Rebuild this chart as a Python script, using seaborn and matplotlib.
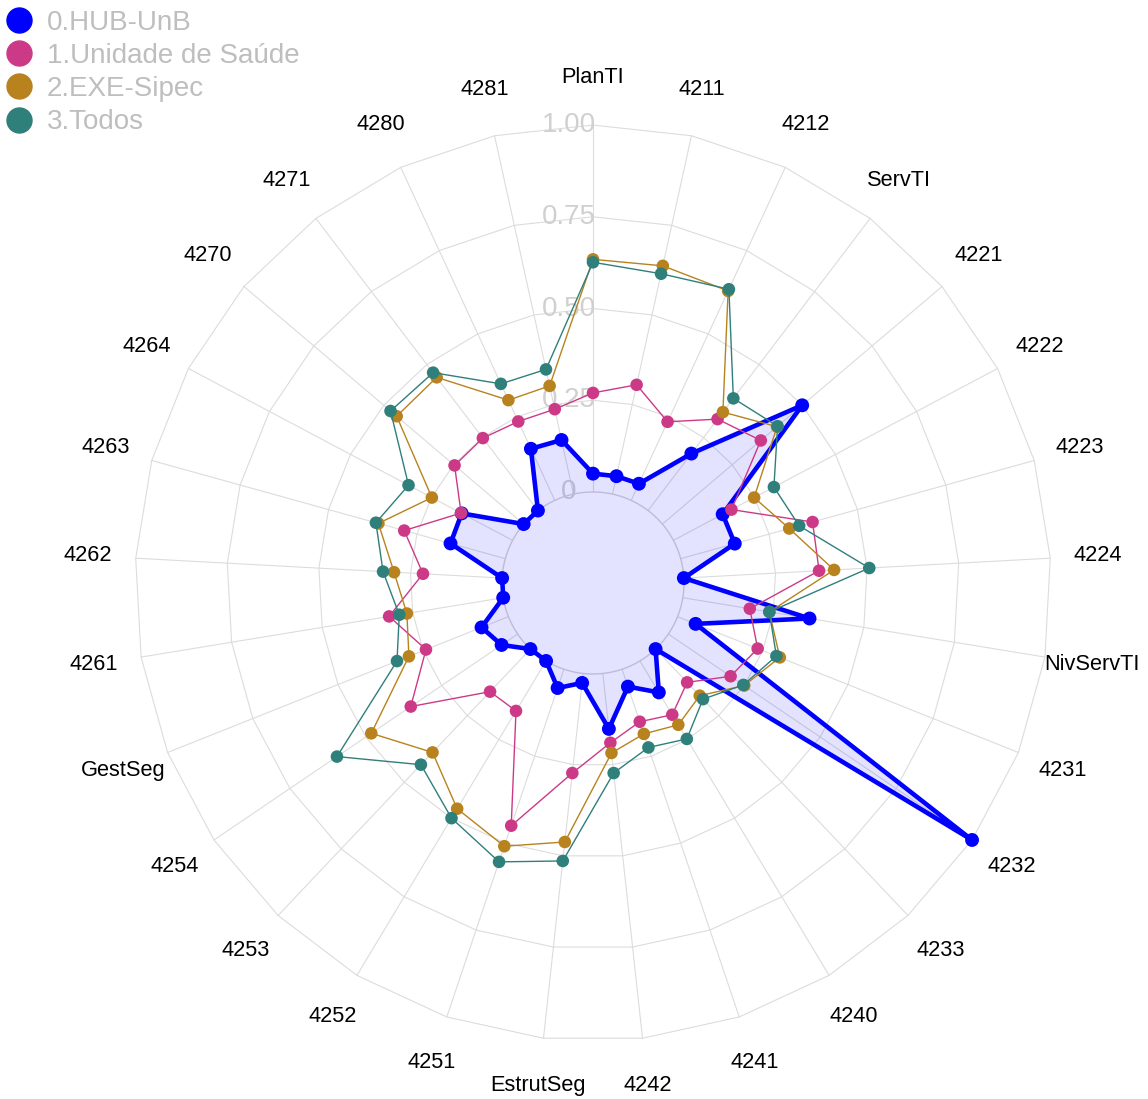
import numpy as np
import pandas as pd
import matplotlib
matplotlib.use("Agg")
import matplotlib.pyplot as plt
from matplotlib.lines import Line2D
import seaborn as sns

# ---------------- data ----------------
axis_labels = ["PlanTI", "4211", "4212", "ServTI", "4221", "4222", "4223", "4224",
               "NivServTI", "4231", "4232", "4233", "4240", "4241", "4242",
               "EstrutSeg", "4251", "4252", "4253", "4254", "GestSeg", "4261",
               "4262", "4263", "4264", "4270", "4271", "4280", "4281"]

series_names = ["0.HUB-UnB", "1.Unidade de Saúde", "2.EXE-Sipec", "3.Todos"]

hub_unb = [0.05, 0.05, 0.05, 0.195, 0.50, 0.152, 0.153, 0.0, 0.35, 0.053, 1.0,
           0.0, 0.10, 0.05, 0.152, 0.026, 0.054, 0.0, 0.0, 0.053, 0.079, 0.0,
           0.0, 0.155, 0.157, 0.0, 0.0, 0.155, 0.151]
unidade_saude = [0.27, 0.305, 0.236, 0.313, 0.352, 0.179, 0.373, 0.369, 0.185,
                 0.235, 0.205, 0.125, 0.171, 0.151, 0.19, 0.273, 0.45, 0.159,
                 0.16, 0.352, 0.242, 0.315, 0.216, 0.286, 0.159, 0.247, 0.248,
                 0.237, 0.237]
exe_sipec = [0.634, 0.637, 0.629, 0.337, 0.41, 0.249, 0.307, 0.41, 0.239, 0.30,
             0.25, 0.175, 0.203, 0.186, 0.218, 0.462, 0.509, 0.470, 0.388,
             0.482, 0.292, 0.266, 0.295, 0.359, 0.249, 0.454, 0.456, 0.301,
             0.302]
todos = [0.626, 0.615, 0.634, 0.384, 0.412, 0.31, 0.335, 0.506, 0.239, 0.29,
         0.247, 0.188, 0.248, 0.225, 0.273, 0.514, 0.554, 0.500, 0.434, 0.595,
         0.327, 0.287, 0.325, 0.366, 0.321, 0.476, 0.472, 0.350, 0.348]

grid_levels = [0.0, 0.25, 0.50, 0.75, 1.00]
grid_labels = ["0", "0.25", "0.50", "0.75", "1.00"]

colors = ["#0000FF", "#CC3A87", "#B8821F", "#2F7F7B"]

# ---------------- style ----------------
sns.set_theme(style="white")
plt.rcParams["font.family"] = ["Liberation Sans", "DejaVu Sans"]

fig = plt.figure(figsize=(11.48, 10.99), dpi=100)
ax = fig.add_axes([0.0697, 0.00273, 0.8937, 0.9336], projection="polar")
ax.set_theta_zero_location("N")
ax.set_theta_direction(-1)
ax.set_ylim(-0.248, 1.15)
ax.axis("off")

n = len(axis_labels)
theta = np.linspace(0, 2 * np.pi, n, endpoint=False)
theta_c = np.append(theta, theta[0])

grid_col = "#DCDCDC"
# spokes
for t in theta:
    ax.plot([t, t], [0, 1.0], color=grid_col, lw=0.8, zorder=1)
# polygonal grid
for lvl in grid_levels[1:]:
    ax.plot(theta_c, [lvl] * (n + 1), color=grid_col, lw=0.8, zorder=1)
# inner disc (level 0)
disc_t = np.linspace(0, 2 * np.pi, 240)
ax.fill(disc_t, np.zeros_like(disc_t), facecolor="white", edgecolor="#D4D4D4",
        lw=1.0, zorder=1.5)

# grid labels
for lvl, lbl in zip(grid_levels, grid_labels):
    ax.annotate(lbl, xy=(0, lvl), xytext=(-17.5, 0), textcoords="offset points",
                ha="center", va="center", fontsize=20, color="#D0D0D0",
                zorder=1.8)

# axis labels
for t, lbl in zip(theta, axis_labels):
    ax.text(t, 1.13, lbl, ha="center", va="center", fontsize=15.7,
            color="black")

# ---------------- series ----------------
df = pd.DataFrame({
    "theta": np.tile(theta, 4),
    "value": hub_unb + unidade_saude + exe_sipec + todos,
    "series": np.repeat(series_names, n),
})

all_vals = [hub_unb, unidade_saude, exe_sipec, todos]
for k, (name, vals, col) in enumerate(zip(series_names, all_vals, colors)):
    vc = np.append(vals, vals[0])
    base_z = 3 + k
    if k == 0:
        ax.fill(theta_c, vc, color=col, alpha=0.11, lw=0, zorder=2)
        lw, s = 3.3, 100
    else:
        lw, s = 1.0, 82
    ax.plot(theta_c, vc, color=col, lw=lw, zorder=base_z)
    sub = df[df["series"] == name]
    sns.scatterplot(data=sub, x="theta", y="value", ax=ax, color=col, s=s,
                    edgecolor="none", linewidth=0, zorder=base_z + 0.5,
                    legend=False)

# legend
handles = [Line2D([], [], marker="o", linestyle="", markersize=18, color=c)
           for c in colors]
fig.legend(handles, series_names, loc="upper left",
           bbox_to_anchor=(0, 1 - 4 / 1099),
           frameon=False, fontsize=20, labelcolor="#BEBEBE", handlelength=1.0,
           handletextpad=0.48, labelspacing=0.26, borderpad=0.2,
           borderaxespad=0.0)

fig.savefig("out.png", dpi=100)
